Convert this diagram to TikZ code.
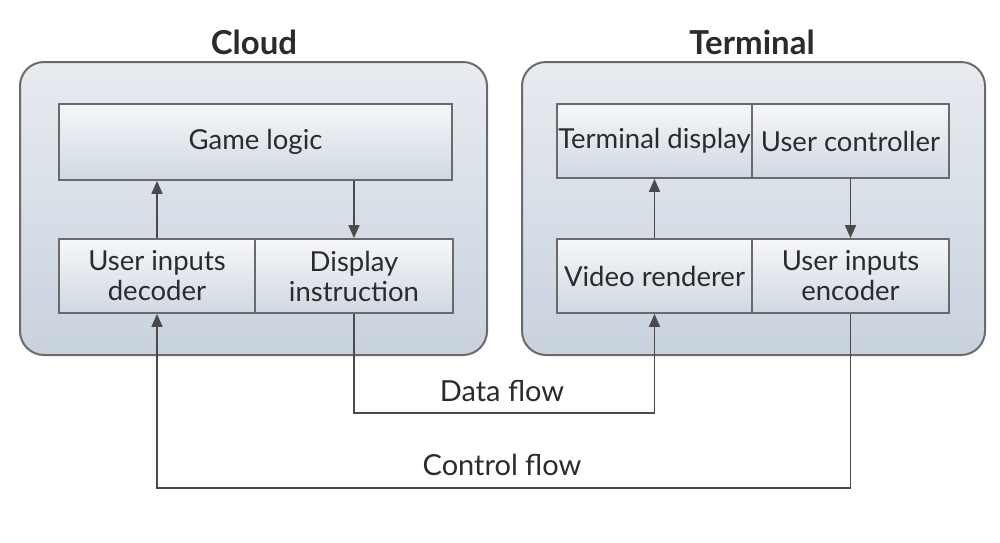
\documentclass[tikz,border=0pt]{standalone}
\usepackage{fontspec}
\setmainfont{Lato}
\usetikzlibrary{arrows.meta}
\definecolor{linecol}{HTML}{4A4A4A}
\definecolor{framecol}{HTML}{6A6A6A}
\definecolor{contTop}{HTML}{E8EBF0}
\definecolor{contBot}{HTML}{C8D2DE}
\definecolor{boxTop}{HTML}{F6F7F9}
\definecolor{boxBot}{HTML}{CFD8E2}
\definecolor{txt}{HTML}{2B2B2B}
\tikzset{
  container/.style={draw=framecol, line width=2pt, rounded corners=24pt, top color=contTop, bottom color=contBot},
  unit/.style={draw=framecol, line width=1.8pt, top color=boxTop, bottom color=boxBot, inner sep=0pt, align=center, font=\fontsize{27.5}{30}\selectfont, text=txt, minimum height=74pt},
  title/.style={font=\fontsize{33}{36}\selectfont\bfseries, text=txt},
  flowlabel/.style={font=\fontsize{29}{32}\selectfont, text=txt},
  flow/.style={draw=linecol, line width=1.7pt, -{Triangle[width=11pt,length=13pt]}},
}
\begin{document}
\begin{tikzpicture}[x=1pt,y=-1pt]
\useasboundingbox (0,0) rectangle (1000,542);
% containers
\path[container] (20,62) rectangle (487,355);
\path[container] (522,62) rectangle (985,355);
\node[title] (cloudt) at (254,42) {Cloud};
\node[title] (termt) at (752,42) {Terminal};
% cloud units
\node[unit, minimum width=393pt, minimum height=76pt] (gl) at (255.5,142) {Game logic};
\node[unit, minimum width=196pt] (uid) at (157,276) {User inputs\\decoder};
\node[unit, minimum width=198pt] (di) at (354,276) {Display\\instruction};
% terminal units
\node[unit, minimum width=195pt] (td) at (654.5,141) {Terminal display};
\node[unit, minimum width=197pt] (uc) at (850.5,141) {User controller};
\node[unit, minimum width=195pt] (vr) at (654.5,276) {Video renderer};
\node[unit, minimum width=197pt] (uie) at (850.5,276) {User inputs\\encoder};
% inner arrows
\draw[flow] (uid.north) -- (uid.north |- gl.south);
\draw[flow] (di.north |- gl.south) -- (di.north);
\draw[flow] (vr.north) -- (vr.north |- td.south);
\draw[flow] (uc.south) -- (uie.north);
% flows
\coordinate (datay) at (0,413);
\coordinate (ctrly) at (0,488);
\draw[flow] (di.south) |- (vr.south |- datay) -- (vr.south);
\draw[flow] (uie.south) |- (uid.south |- ctrly) -- (uid.south);
\node[flowlabel] (dlab) at (502,391) {Data flow};
\node[flowlabel] (clab) at (502,465) {Control flow};
\end{tikzpicture}
\end{document}
